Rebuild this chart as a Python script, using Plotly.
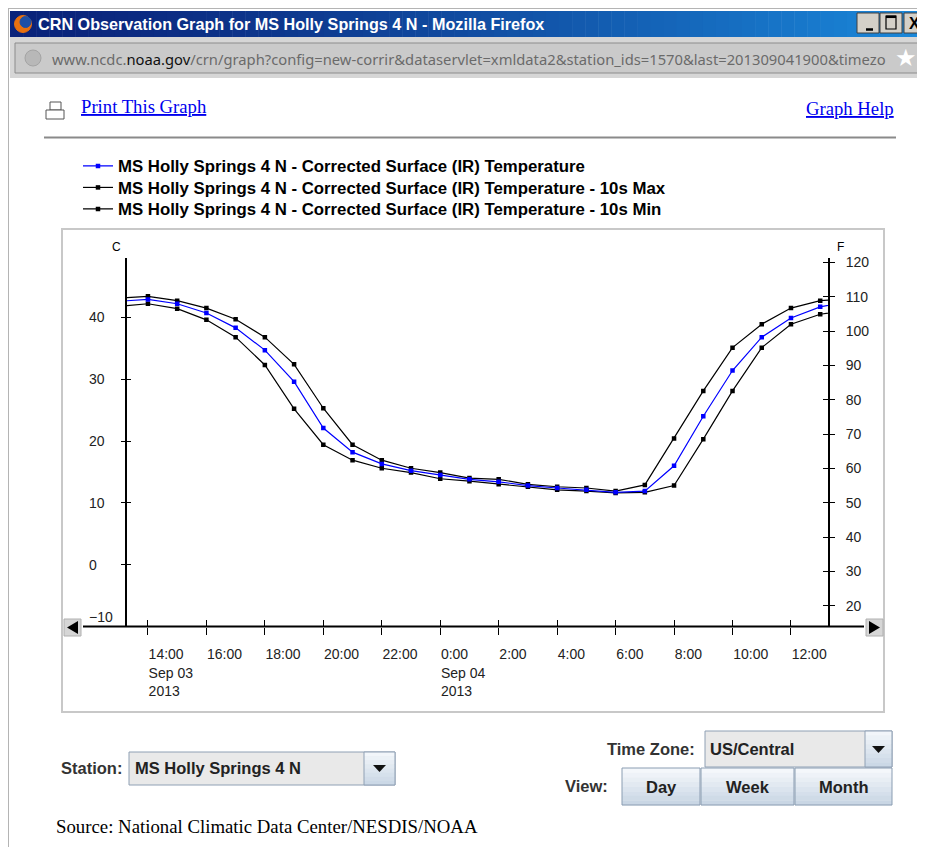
import plotly.graph_objects as go

# hourly readings (US/Central); first and last hour sit just outside the 24h window
times = [
    '2013-09-03 13:00', '2013-09-03 14:00', '2013-09-03 15:00', '2013-09-03 16:00',
    '2013-09-03 17:00', '2013-09-03 18:00', '2013-09-03 19:00', '2013-09-03 20:00',
    '2013-09-03 21:00', '2013-09-03 22:00', '2013-09-03 23:00', '2013-09-04 00:00',
    '2013-09-04 01:00', '2013-09-04 02:00', '2013-09-04 03:00', '2013-09-04 04:00',
    '2013-09-04 05:00', '2013-09-04 06:00', '2013-09-04 07:00', '2013-09-04 08:00',
    '2013-09-04 09:00', '2013-09-04 10:00', '2013-09-04 11:00', '2013-09-04 12:00',
    '2013-09-04 13:00', '2013-09-04 14:00',
]
surface_c = [42.6, 42.9, 42.2, 40.7, 38.3, 34.7, 29.6, 22.1, 18.2, 16.3, 15.2, 14.5, 13.8,
             13.4, 12.8, 12.4, 12.1, 11.7, 11.9, 16.0, 24.0, 31.4, 36.8, 39.9, 41.7, 42.6]
max_c = [43.1, 43.4, 42.7, 41.5, 39.7, 36.8, 32.4, 25.3, 19.4, 16.9, 15.6, 14.9, 14.0,
         13.8, 13.0, 12.6, 12.4, 11.9, 12.9, 20.4, 28.1, 35.1, 38.9, 41.5, 42.7, 43.0]
min_c = [41.8, 42.2, 41.4, 39.6, 36.8, 32.3, 25.2, 19.4, 16.9, 15.6, 14.9, 13.9, 13.5,
         13.0, 12.6, 12.1, 11.9, 11.6, 11.7, 12.8, 20.3, 28.1, 35.1, 38.9, 40.5, 41.2]

station = 'MS Holly Springs 4 N'
names = [station + ' - Corrected Surface (IR) Temperature',
         station + ' - Corrected Surface (IR) Temperature - 10s Max',
         station + ' - Corrected Surface (IR) Temperature - 10s Min']

tick_times = ['2013-09-03 14:00', '2013-09-03 16:00', '2013-09-03 18:00', '2013-09-03 20:00',
              '2013-09-03 22:00', '2013-09-04 00:00', '2013-09-04 02:00', '2013-09-04 04:00',
              '2013-09-04 06:00', '2013-09-04 08:00', '2013-09-04 10:00', '2013-09-04 12:00']
tick_text = ['14:00<br>Sep 03<br>2013', '16:00', '18:00', '20:00', '22:00',
             '0:00<br>Sep 04<br>2013', '2:00', '4:00', '6:00', '8:00', '10:00', '12:00']
c_ticks = [-10, 0, 10, 20, 30, 40]
f_ticks = [20, 30, 40, 50, 60, 70, 80, 90, 100, 110, 120]

x_range = ['2013-09-03 13:17', '2013-09-04 13:16']
c_range = [-10, 49.6]
f_range = [c * 1.8 + 32 for c in c_range]

SANS = 'Liberation Sans, Arial, sans-serif'
SERIF = 'Liberation Serif, Times New Roman, serif'

# the page body adds 8px around the figure, so the figure is 16px smaller than the window.
# the grey chart panel is the paper area; everything else is placed in screen pixels
def fx(x):
    return (x - 62) / 822

def fy(y):
    return (712 - y) / 483

shapes = []
annotations = []

def rect(x0, y0, x1, y1, fill=None, line=None, lw=1, layer='above'):
    shapes.append(dict(type='rect', xref='paper', yref='paper', layer=layer,
                       x0=fx(x0), x1=fx(x1), y0=fy(y0), y1=fy(y1),
                       fillcolor=fill or 'rgba(0,0,0,0)',
                       line=dict(color=line or 'rgba(0,0,0,0)', width=lw if line else 0)))

def seg(x0, y0, x1, y1, color='#000', lw=1):
    shapes.append(dict(type='line', xref='paper', yref='paper', layer='above',
                       x0=fx(x0), x1=fx(x1), y0=fy(y0), y1=fy(y1),
                       line=dict(color=color, width=lw)))

def poly(pts, fill):
    d = 'M ' + ' L '.join('%f,%f' % (fx(x), fy(y)) for x, y in pts) + ' Z'
    shapes.append(dict(type='path', xref='paper', yref='paper', layer='above', path=d,
                       fillcolor=fill, line=dict(width=0)))

def circle(cx, cy, r, fill, line=None):
    shapes.append(dict(type='circle', xref='paper', yref='paper', layer='above',
                       x0=fx(cx - r), x1=fx(cx + r), y0=fy(cy + r), y1=fy(cy - r),
                       fillcolor=fill, line=dict(color=line or fill, width=1)))

def text(x, y, s, size=14, color='#000', family=SANS, bold=False, anchor='left', under=False):
    font = dict(size=size, color=color, family=family, weight='bold' if bold else 'normal')
    if under:
        font['lineposition'] = 'under'
    annotations.append(dict(xref='paper', yref='paper', x=fx(x), y=fy(y), text=s,
                            showarrow=False, xanchor=anchor, yanchor='middle', font=font))

def mix(c0, c1, t):
    a = [int(c0[i:i + 2], 16) for i in (1, 3, 5)]
    b = [int(c1[i:i + 2], 16) for i in (1, 3, 5)]
    return '#%02x%02x%02x' % tuple(round(p + (q - p) * t) for p, q in zip(a, b))

def gradient_box(x0, y0, x1, y1, top, bottom, border):
    n = 8
    for i in range(n):
        rect(x0, y0 + (y1 - y0) * i / n, x1, y0 + (y1 - y0) * (i + 1) / n + 0.3,
             fill=mix(top, bottom, i / (n - 1)))
    rect(x0, y0, x1, y1, line=border)

# ---- browser window chrome ----
rect(8, 8, 940, 852, line='#b4b4b4', lw=2)
n = 70
for i in range(n):
    rect(10 + 915 * i / n, 11, 10 + 915 * (i + 1) / n + 0.5, 37,
         fill=mix('#0a237a', '#1a88da', (i / (n - 1)) ** 1.3))
circle(23, 24, 8.5, '#e8700f')
circle(25.5, 22, 5.5, '#1d4fa6')
text(36, 24, 'CRN Observation Graph for MS Holly Springs 4 N - Mozilla Firefox',
     size=16.2, color='#ffffff', bold=True)
for bx in (857, 880, 904):
    rect(bx, 13, bx + 22, 33, fill='#d4d0c8', line='#404040')
seg(866, 29.5, 873, 29.5, lw=2.5)
rect(886, 16, 896, 29, line='#000', lw=1.2)
seg(886, 16.8, 896, 16.8, lw=2.5)
text(914, 23.5, 'X', size=16, bold=True, anchor='center')

rect(10, 37, 925, 78, fill='#d6d6d6')
rect(15, 43, 918, 73, fill='#cacaca', line='#8c8c8c')
circle(33, 58, 8, '#b8b8b8', '#a4a4a4')
text(50, 58.5, "www.ncdc.<span style='color:#101010'>noaa.gov</span>/crn/graph?config=new-corrir&amp;"
     "dataservlet=xmldata2&amp;station_ids=1570&amp;last=201309041900&amp;timezo",
     size=14.75, color='#6a6a6a', family='Noto Sans, sans-serif')
text(906, 58, '★', size=24, color='#ffffff', anchor='center', family='DejaVu Sans')

# ---- page header ----
rect(50, 102, 61, 110, fill='#fff', line='#555')
rect(46, 110, 64, 119, fill='#fff', line='#555')
text(79, 106, 'Print This Graph', size=18.7, color='#0000ee', family=SERIF, under=True)
text(896, 109, 'Graph Help', size=18.7, color='#0000ee', family=SERIF, anchor='right', under=True)
seg(44, 137.5, 896, 137.5, color='#8a8a8a', lw=2)

# ---- chart panel ----
rect(62, 229, 884, 712, line='#c8c8c8', lw=2, layer='below')
seg(83, 626.5, 864, 626.5, lw=2)
rect(64, 619, 81, 636, fill='#d6d6d6', line='#b0b0b0')
poly([(67, 627.5), (78, 621), (78, 634)], '#000')
rect(866, 619, 883, 636, fill='#d6d6d6', line='#b0b0b0')
poly([(880, 627.5), (869, 621), (869, 634)], '#000')
text(110, 247, 'C', size=12)
text(835, 247, 'F', size=12)

# ---- controls under the chart ----
text(59, 768, 'Station:', size=16.5, color='#333', bold=True)
rect(129, 752, 395, 785, fill='#e9e9e9', line='#8fa0b4')
gradient_box(364, 752, 395, 785, '#f2f6fa', '#cbd8e6', '#8fa0b4')
poly([(373, 765), (386, 765), (379.5, 772)], '#111')
text(133, 768, station, size=16.5, color='#222', bold=True)

text(697, 749, 'Time Zone:', size=16.5, color='#333', bold=True, anchor='right')
rect(705, 731, 892, 767, fill='#e9e9e9', line='#8fa0b4')
gradient_box(865, 731, 892, 767, '#f2f6fa', '#cbd8e6', '#8fa0b4')
poly([(872, 746), (885, 746), (878.5, 753)], '#111')
text(708, 749, 'US/Central', size=16.5, color='#222', bold=True)

text(610, 786, 'View:', size=16.5, color='#333', bold=True, anchor='right')
for label, x0, x1 in [('Day', 622, 700), ('Week', 701, 794), ('Month', 795, 892)]:
    gradient_box(x0, 768, x1, 805, '#f4f7fb', '#c9d6e4', '#8a9db2')
    text((x0 + x1) / 2, 786.5, label, size=16.5, color='#222', bold=True, anchor='center')

text(54, 826, 'Source: National Climatic Data Center/NESDIS/NOAA', size=18.8, family=SERIF)

# ---- data ----
fig = go.Figure()
for name, vals, color, leg in [(names[1], max_c, '#000000', 'legend2'),
                               (names[2], min_c, '#000000', 'legend3'),
                               (names[0], surface_c, '#0000ff', 'legend')]:
    fig.add_trace(go.Scatter(x=times, y=vals, name=name, mode='lines+markers', legend=leg,
                             line=dict(color=color, width=1.2),
                             marker=dict(symbol='square', size=4.5, color=color)))

# empty traces so the helper axes get drawn
for xa, ya in [('x2', 'y'), ('x', 'y2'), ('x', 'y3'), ('x', 'y4'), ('x', 'y5'), ('x', 'y6')]:
    fig.add_trace(go.Scatter(x=[times[1]], y=[None], xaxis=xa, yaxis=ya, mode='markers',
                             showlegend=False, hoverinfo='skip'))

x_dom = [fx(127), fx(828)]
y_dom = [fy(626.5), fy(258)]
common = dict(showgrid=False, zeroline=False, tickcolor='#000', tickwidth=1.3)
c_label_axis = dict(overlaying='y', side='right', anchor='free', position=fx(88), range=c_range,
                    ticks='', showline=False, ticklabelstandoff=0,
                    tickfont=dict(size=14, color='#222'), **common)

legend_style = dict(xanchor='left', yanchor='middle', bgcolor='rgba(0,0,0,0)',
                    font=dict(family=SANS, size=16.8, color='#000', weight='bold'))

fig.update_layout(
    width=917, height=839,
    margin=dict(l=54, r=41, t=221, b=135, pad=0, autoexpand=False),
    paper_bgcolor='white', plot_bgcolor='white',
    font=dict(family=SANS, size=14, color='#111'),
    shapes=shapes, annotations=annotations,
    legend=dict(x=fx(78), y=fy(166), **legend_style),
    legend2=dict(x=fx(78), y=fy(187.5), **legend_style),
    legend3=dict(x=fx(78), y=fy(209), **legend_style),
    xaxis=dict(domain=x_dom, range=x_range, tickvals=tick_times, ticktext=tick_text,
               ticks='outside', ticklen=7, ticklabelposition='outside right',
               ticklabelstandoff=15, showline=False, tickfont=dict(size=14, color='#222'),
               **common),
    xaxis2=dict(overlaying='x', anchor='y', side='bottom', range=x_range, tickvals=tick_times,
                ticks='inside', ticklen=7, showticklabels=False, showline=False, **common),
    yaxis=dict(domain=y_dom, range=c_range, tickvals=c_ticks, ticks='outside', ticklen=4,
               showticklabels=False, showline=True, linecolor='#000', linewidth=2, **common),
    yaxis3=dict(overlaying='y', side='left', anchor='x', range=c_range, tickvals=c_ticks,
                ticks='inside', ticklen=4, showticklabels=False, showline=False, **common),
    # left labels are left-aligned in the original, so they sit on right-side helper axes
    yaxis4=dict(tickvals=c_ticks[1:], **c_label_axis),
    yaxis6=dict(tickvals=c_ticks[:1], ticklabelposition='outside top', **c_label_axis),
    yaxis2=dict(overlaying='y', side='right', anchor='x', range=f_range, tickvals=f_ticks,
                ticks='outside', ticklen=5, showline=True, linecolor='#000', linewidth=2,
                ticklabelstandoff=8, tickfont=dict(size=14, color='#222'), **common),
    yaxis5=dict(overlaying='y', side='right', anchor='x', range=f_range, tickvals=f_ticks,
                ticks='inside', ticklen=5, showticklabels=False, showline=False, **common),
)

fig.write_html('out.html', config={'displayModeBar': False})
